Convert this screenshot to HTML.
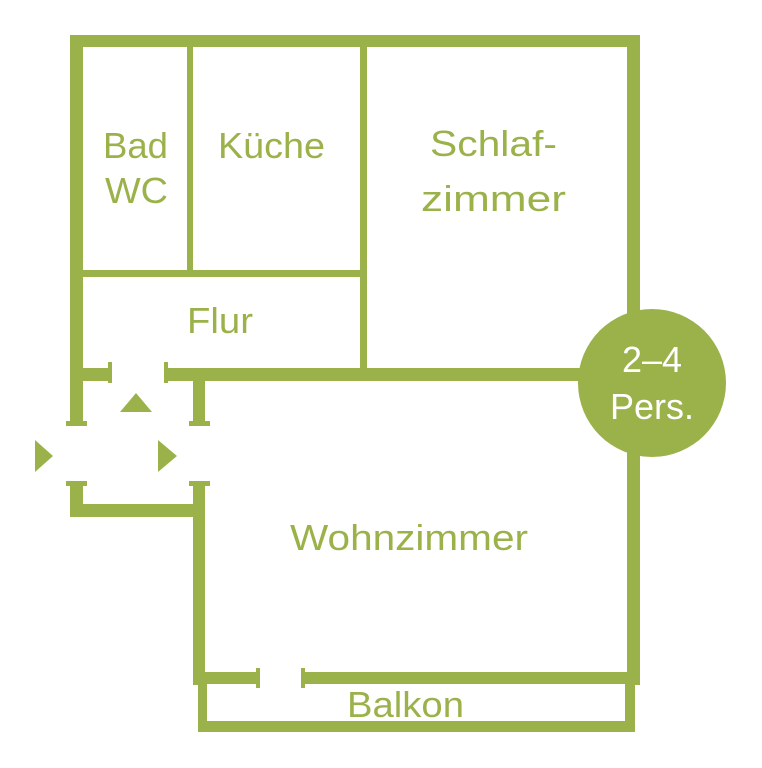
<!DOCTYPE html>
<html><head><meta charset="utf-8"><style>
html,body{margin:0;padding:0;background:#fff;}
svg{display:block}
text{font-family:"Liberation Sans",sans-serif;fill:#9bb24a;font-size:36px}
</style></head><body>
<svg width="762" height="768" viewBox="0 0 762 768">
<g fill="#9bb24a">
<rect x="70" y="35" width="570" height="12"/>
<rect x="70" y="35" width="13" height="390"/>
<rect x="66" y="421" width="21" height="5"/>
<rect x="627" y="35" width="13" height="650"/>
<rect x="187" y="45" width="6" height="230"/>
<rect x="360" y="45" width="7" height="330"/>
<rect x="80" y="270" width="287" height="7"/>
<rect x="80" y="368" width="30" height="13"/>
<rect x="108" y="362" width="4" height="21"/>
<rect x="166" y="368" width="470" height="13"/>
<rect x="164" y="362" width="4" height="21"/>
<rect x="193" y="370" width="12" height="55"/>
<rect x="189" y="421" width="21" height="5"/>
<rect x="66" y="481" width="21" height="5"/>
<rect x="70" y="481" width="13" height="36"/>
<rect x="70" y="504" width="135" height="13"/>
<rect x="189" y="481" width="21" height="5"/>
<rect x="193" y="481" width="12" height="204"/>
<rect x="193" y="672" width="64" height="12"/>
<rect x="256" y="668" width="4" height="20"/>
<rect x="302" y="672" width="338" height="12"/>
<rect x="301" y="668" width="4" height="20"/>
<rect x="198" y="680" width="9" height="52"/>
<rect x="198" y="721" width="437" height="11"/>
<rect x="625" y="680" width="10" height="52"/>
<polygon points="136,393 120,412 152,412"/>
<polygon points="35,440 35,472 53,456"/>
<polygon points="158,440 158,472 177,456"/>
<circle cx="652" cy="383" r="74"/>
</g>
<text x="103" y="158" textLength="65" lengthAdjust="spacingAndGlyphs">Bad</text>
<text x="105" y="203" textLength="63" lengthAdjust="spacingAndGlyphs">WC</text>
<text x="218" y="158" textLength="107" lengthAdjust="spacingAndGlyphs">Küche</text>
<text x="430" y="156" textLength="127" lengthAdjust="spacingAndGlyphs">Schlaf-</text>
<text x="421" y="211" textLength="145" lengthAdjust="spacingAndGlyphs">zimmer</text>
<text x="187" y="333" textLength="66" lengthAdjust="spacingAndGlyphs">Flur</text>
<text x="290" y="550" textLength="238" lengthAdjust="spacingAndGlyphs">Wohnzimmer</text>
<text x="347" y="717" textLength="117" lengthAdjust="spacingAndGlyphs">Balkon</text>
<text x="652" y="372" text-anchor="middle" style="fill:#fff">2–4</text>
<text x="652" y="419" text-anchor="middle" style="fill:#fff">Pers.</text>
</svg>
</body></html>
